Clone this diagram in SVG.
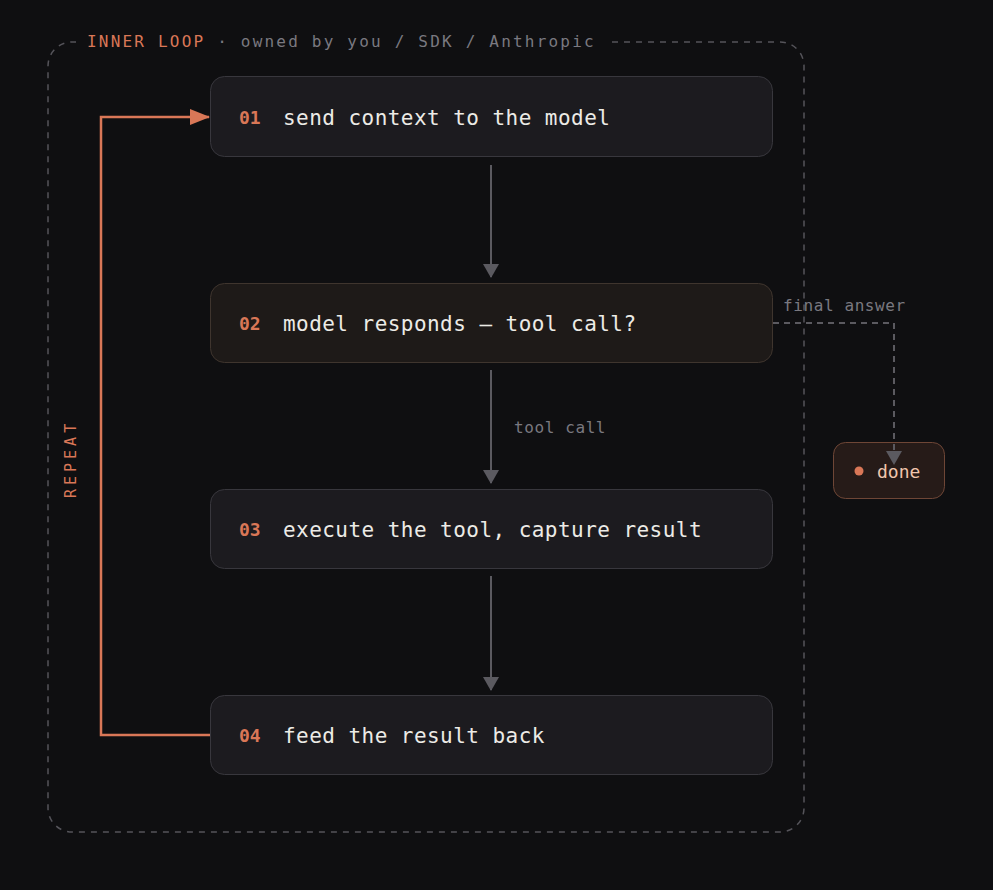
<svg xmlns="http://www.w3.org/2000/svg" width="993" height="890" viewBox="0 0 993 890">
<defs>
<style>
.mono{font-family:"DejaVu Sans Mono","Liberation Mono",monospace}
.box{fill:#1c1b1f;stroke:#38373d;stroke-width:1}
.box2{fill:#1e1a18;stroke:#3f352e;stroke-width:1}
.num{fill:#d97757;font-weight:bold;font-size:18px}
.lbl{fill:#ecebe6;font-size:21px;letter-spacing:0.45px}
.edge{stroke:#5b5a60;stroke-width:2;fill:none}
.small{fill:#7a7980;font-size:16px;letter-spacing:0.6px}
</style>
<marker id="ag2" viewBox="0 0 14 16" refX="13" refY="8" markerWidth="14" markerHeight="16" markerUnits="userSpaceOnUse" orient="auto"><path d="M0,0 L14,8 L0,16 z" fill="#5b5a60"/></marker>
<marker id="ao" viewBox="0 0 20 16" refX="19" refY="8" markerWidth="20" markerHeight="16" markerUnits="userSpaceOnUse" orient="auto"><path d="M0,0 L20,8 L0,16 z" fill="#d97757"/></marker>
</defs>
<rect width="993" height="890" fill="#0f0f11"/>
<g id="container">
<rect x="48" y="42" width="756" height="790" rx="24" fill="none" stroke="#55545a" stroke-width="1.5" stroke-dasharray="6 6"/>
<rect x="76" y="30" width="532" height="24" fill="#0f0f11"/>
<text class="mono" x="87" y="47" font-size="16" letter-spacing="2.2" fill="#7a7980"><tspan fill="#d97757">INNER LOOP</tspan> · owned by you / SDK / Anthropic</text>
<text class="mono" transform="translate(76,498) rotate(-90)" font-size="15" letter-spacing="4" fill="#d97757">REPEAT</text>
</g>
<g id="n1">
<rect class="box" x="210.5" y="76.5" width="562" height="80" rx="14"/>
<text class="mono num" x="239" y="124">01</text>
<text class="mono lbl" x="283" y="125">send context to the model</text>
</g>
<g id="n2">
<rect class="box2" x="210.5" y="283.5" width="562" height="79" rx="14"/>
<text class="mono num" x="239" y="330">02</text>
<text class="mono lbl" x="283" y="331">model responds — tool call?</text>
</g>
<g id="n3">
<rect class="box" x="210.5" y="489.5" width="562" height="79" rx="14"/>
<text class="mono num" x="239" y="536">03</text>
<text class="mono lbl" x="283" y="537">execute the tool, capture result</text>
</g>
<g id="n4">
<rect class="box" x="210.5" y="695.5" width="562" height="79" rx="14"/>
<text class="mono num" x="239" y="742">04</text>
<text class="mono lbl" x="283" y="743">feed the result back</text>
</g>
<g id="done">
<rect x="833.5" y="442.5" width="111" height="56" rx="12" fill="#261b18" stroke="#6e4636" stroke-width="1"/>
<circle cx="859" cy="471" r="4.5" fill="#d97757"/>
<text class="mono" x="877" y="478" font-size="18" fill="#f0c6ad">done</text>
</g>
<g id="connectors">
<path class="edge" d="M491 165 V277" marker-end="url(#ag2)"/>
<path class="edge" d="M491 370 V483" marker-end="url(#ag2)"/>
<path class="edge" d="M491 576 V690" marker-end="url(#ag2)"/>
<path d="M210 735 H101 V117 H209" fill="none" stroke="#d97757" stroke-width="2.5" marker-end="url(#ao)"/>
<path d="M773 323 H894 V464" fill="none" stroke="#5b5a60" stroke-width="2" stroke-dasharray="6 5" marker-end="url(#ag2)"/>
<text class="mono small" x="783" y="311">final answer</text>
<text class="mono small" x="514" y="433">tool call</text>
</g>
</svg>
